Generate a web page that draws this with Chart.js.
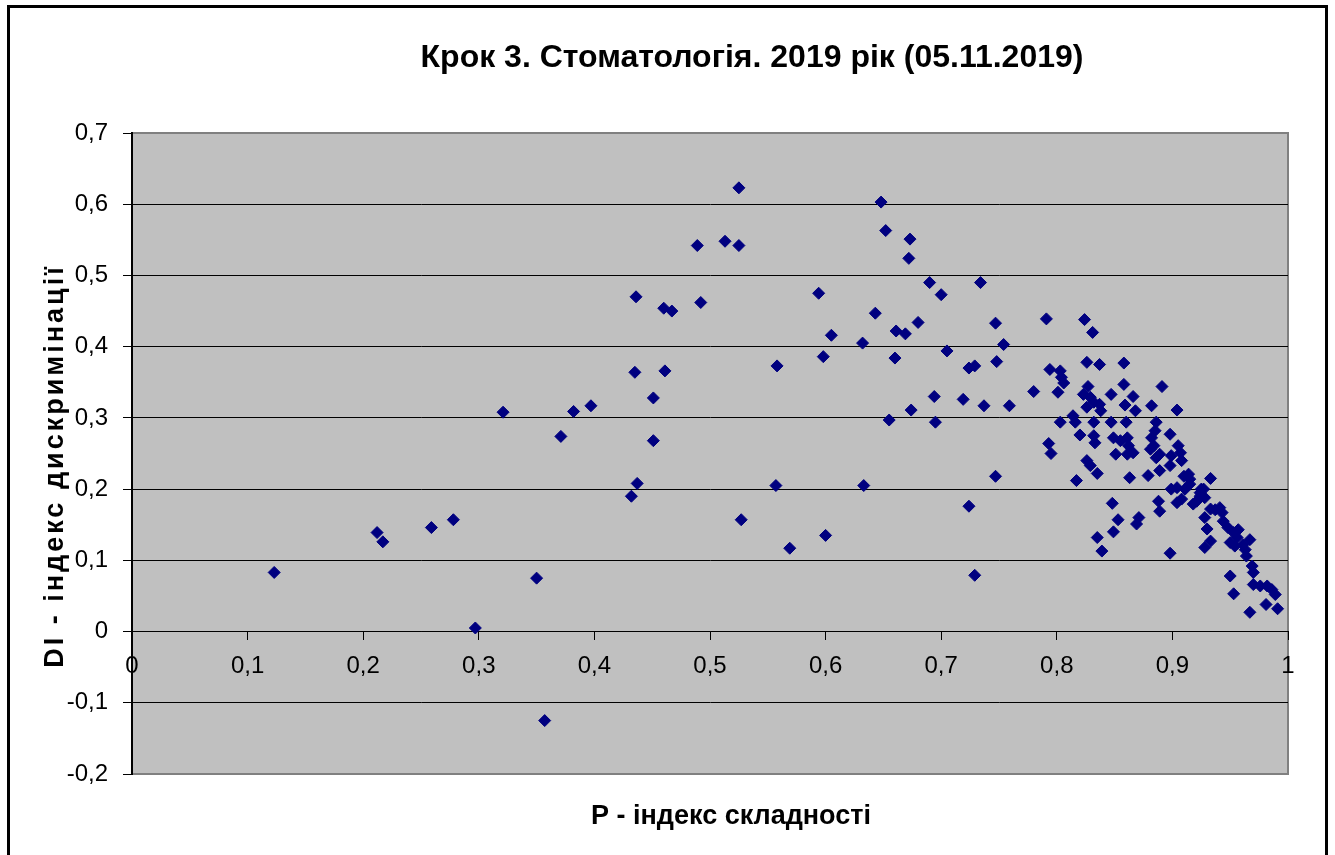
<!DOCTYPE html>
<html>
<head>
<meta charset="utf-8">
<title>Крок 3. Стоматологія. 2019</title>
<script src="https://cdn.jsdelivr.net/npm/chart.js@4.4.1/dist/chart.umd.min.js"></script>
<style>
  html, body { margin: 0; padding: 0; background: #fff; overflow: hidden; }
  #wrap { position: relative; width: 1335px; height: 855px; }
  #frame { position: absolute; left: 7px; top: 5px; width: 1315px; height: 900px;
           border: 3px solid #000; pointer-events: none; }
  canvas { position: absolute; left: 0; top: 0; }
</style>
</head>
<body>
<div id="wrap">
  <canvas id="chart" width="1335" height="855"></canvas>
  <div id="frame"></div>
</div>
<script>
// тексти
var chartTitle = "Крок 3. Стоматологія. 2019 рік (05.11.2019)";
var xTitle = "Р - індекс складності";
var yTitle = "DI - індекс дискримінації";

// підписи осей
var xTickLabels = ["0", "0,1", "0,2", "0,3", "0,4", "0,5", "0,6", "0,7", "0,8", "0,9", "1"];
var yTickLabels = ["-0,2", "-0,1", "0", "0,1", "0,2", "0,3", "0,4", "0,5", "0,6", "0,7"];

// P - індекс складності (по точках)
var difficultyP = [
  0.123, 0.212, 0.217, 0.259, 0.278, 0.297, 0.321, 0.350, 0.357, 0.371,
  0.382, 0.397, 0.432, 0.435, 0.436, 0.437, 0.451, 0.451, 0.460, 0.461,
  0.467, 0.489, 0.492, 0.513, 0.525, 0.525, 0.527, 0.557, 0.558, 0.569,
  0.594, 0.598, 0.600, 0.605, 0.632, 0.633, 0.643, 0.648, 0.652, 0.655,
  0.660, 0.661, 0.669, 0.672, 0.673, 0.674, 0.680, 0.690, 0.694, 0.695,
  0.700, 0.705, 0.719, 0.724, 0.724, 0.729, 0.729, 0.734, 0.737, 0.747,
  0.747, 0.748, 0.754, 0.759, 0.780, 0.791, 0.793, 0.794, 0.795, 0.801,
  0.803, 0.803, 0.804, 0.806, 0.814, 0.816, 0.817, 0.820, 0.824, 0.823,
  0.826, 0.826, 0.826, 0.827, 0.829, 0.829, 0.831, 0.832, 0.832, 0.832,
  0.833, 0.835, 0.835, 0.837, 0.837, 0.838, 0.839, 0.847, 0.847, 0.848,
  0.849, 0.849, 0.851, 0.853, 0.855, 0.858, 0.858, 0.859, 0.860, 0.861,
  0.861, 0.862, 0.863, 0.866, 0.866, 0.868, 0.869, 0.871, 0.879, 0.881,
  0.882, 0.882, 0.884, 0.885, 0.886, 0.886, 0.888, 0.889, 0.889, 0.889,
  0.891, 0.898, 0.898, 0.898, 0.899, 0.899, 0.904, 0.904, 0.904, 0.905,
  0.907, 0.908, 0.908, 0.910, 0.911, 0.914, 0.915, 0.915, 0.918, 0.921,
  0.924, 0.924, 0.925, 0.927, 0.928, 0.928, 0.928, 0.930, 0.933, 0.933,
  0.933, 0.937, 0.941, 0.943, 0.944, 0.948, 0.950, 0.950, 0.953, 0.953,
  0.954, 0.956, 0.957, 0.961, 0.963, 0.964, 0.967, 0.967, 0.969, 0.970,
  0.970, 0.976, 0.982, 0.981, 0.986, 0.989, 0.991
];

// DI - індекс дискримінації
var discriminationDI = [
  0.083, 0.139, 0.126, 0.146, 0.157, 0.005, 0.308, 0.075, -0.125, 0.274,
  0.309, 0.317, 0.190, 0.364, 0.470, 0.208, 0.328, 0.268, 0.454, 0.366,
  0.450, 0.542, 0.462, 0.548, 0.623, 0.542, 0.157, 0.205, 0.373, 0.117,
  0.475, 0.386, 0.135, 0.416, 0.405, 0.205, 0.447, 0.603, 0.563, 0.297,
  0.384, 0.422, 0.418, 0.524, 0.551, 0.311, 0.434, 0.490, 0.330, 0.294,
  0.473, 0.394, 0.326, 0.370, 0.176, 0.373, 0.079, 0.490, 0.317, 0.433,
  0.218, 0.379, 0.403, 0.317, 0.337, 0.439, 0.264, 0.368, 0.250, 0.336,
  0.366, 0.294, 0.357, 0.349, 0.303, 0.294, 0.212, 0.276, 0.438, 0.333,
  0.378, 0.315, 0.240, 0.344, 0.329, 0.233, 0.420, 0.322, 0.294, 0.275,
  0.265, 0.222, 0.132, 0.375, 0.319, 0.310, 0.113, 0.333, 0.294, 0.180,
  0.272, 0.140, 0.249, 0.157, 0.268, 0.377, 0.347, 0.318, 0.294, 0.272,
  0.249, 0.261, 0.216, 0.330, 0.251, 0.310, 0.151, 0.160, 0.219, 0.256,
  0.317, 0.272, 0.261, 0.282, 0.294, 0.244, 0.183, 0.226, 0.169, 0.249,
  0.344, 0.277, 0.233, 0.110, 0.247, 0.200, 0.311, 0.202, 0.181, 0.261,
  0.251, 0.240, 0.186, 0.218, 0.200, 0.221, 0.214, 0.207, 0.179, 0.183,
  0.195, 0.190, 0.200, 0.200, 0.188, 0.160, 0.118, 0.144, 0.215, 0.172,
  0.127, 0.171, 0.174, 0.167, 0.155, 0.146, 0.125, 0.078, 0.139, 0.053,
  0.120, 0.132, 0.143, 0.122, 0.115, 0.106, 0.129, 0.027, 0.092, 0.083,
  0.066, 0.064, 0.064, 0.038, 0.059, 0.052, 0.032
];

var fontFamily = '"Liberation Sans", Arial, sans-serif';

var points = difficultyP.map(function (p, i) { return { x: p, y: discriminationDI[i] }; });

// фон і рамка області побудови, заголовки
var excelLook = {
  id: 'excelLook',
  beforeDraw: function (chart) {
    var ctx = chart.ctx, a = chart.chartArea;
    ctx.save();
    ctx.fillStyle = '#c0c0c0';
    ctx.fillRect(a.left, a.top, a.right - a.left, a.bottom - a.top);
    ctx.strokeStyle = '#808080';
    ctx.lineWidth = 2;
    ctx.strokeRect(a.left, a.top, a.right - a.left, a.bottom - a.top);
    ctx.restore();
  },
  afterDraw: function (chart) {
    var ctx = chart.ctx;
    ctx.save();
    ctx.fillStyle = '#000';
    ctx.textAlign = 'center';
    ctx.textBaseline = 'alphabetic';
    ctx.font = 'bold 32px ' + fontFamily;
    ctx.fillText(chartTitle, 752, 67);
    ctx.font = 'bold 27px ' + fontFamily;
    ctx.fillText(xTitle, 731, 824);
    // підпис осі Y у Excel розріджений
    ctx.translate(63, 466);
    ctx.rotate(-Math.PI / 2);
    ctx.font = 'bold 27px ' + fontFamily;
    ctx.letterSpacing = '3px';
    ctx.fillText(yTitle, 0, 0);
    ctx.restore();
  }
};

new Chart(document.getElementById('chart'), {
  type: 'scatter',
  data: {
    datasets: [{
      data: points,
      pointStyle: 'rectRot',
      pointRadius: 6,
      pointHoverRadius: 6,
      backgroundColor: '#000080',
      borderColor: '#000080',
      borderWidth: 1
    }]
  },
  options: {
    responsive: false,
    animation: false,
    events: [],
    layout: { padding: { left: 0, top: 133, right: 47, bottom: 81 } },
    plugins: { legend: { display: false }, tooltip: { enabled: false }, title: { display: false } },
    scales: {
      x: {
        type: 'linear',
        position: { y: 0 },
        min: 0, max: 1,
        afterFit: function (s) { s.height = 0; },
        grid: { drawOnChartArea: false, drawTicks: true, tickLength: 8, color: '#000', lineWidth: 1 },
        border: { display: true, color: '#000', width: 1 },
        ticks: {
          stepSize: 0.1, padding: 12, color: '#000', maxRotation: 0, autoSkip: false,
          font: { family: fontFamily, size: 24 },
          callback: function (v, i) { return xTickLabels[i]; }
        }
      },
      y: {
        type: 'linear',
        min: -0.2, max: 0.7,
        afterFit: function (s) { s.width = 132; },
        grid: {
          drawTicks: true, tickLength: 9, lineWidth: 1, tickColor: '#000',
          color: function (c) { return (c.index === 0 || c.index === yTickLabels.length - 1) ? '#808080' : '#000'; }
        },
        border: { display: true, color: '#000', width: 2 },
        ticks: {
          stepSize: 0.1, padding: 15, color: '#000', autoSkip: false,
          font: { family: fontFamily, size: 24 },
          callback: function (v, i) { return yTickLabels[i]; }
        }
      }
    }
  },
  plugins: [excelLook]
});
</script>
</body>
</html>
